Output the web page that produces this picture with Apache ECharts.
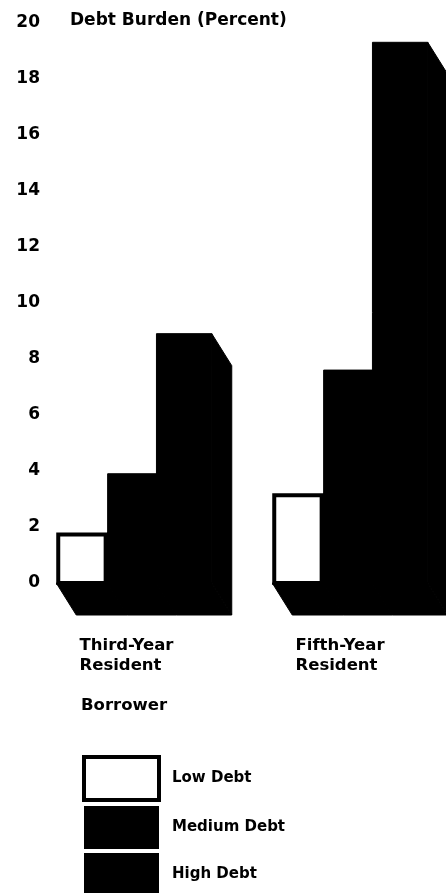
<!DOCTYPE html>
<html>
<head>
<meta charset="utf-8">
<script src="https://cdn.jsdelivr.net/npm/echarts@6/dist/echarts.min.js"></script>
<style>
  html, body { margin: 0; padding: 0; background: #ffffff; }
  #chart { width: 446px; height: 893px; }
</style>
</head>
<body>
<div id="chart"></div>
<script>
// Debt burden (percent of income) by residency year and debt level
const categories = ['Third-Year\nResident', 'Fifth-Year\nResident'];
const levelNames = ['Low Debt', 'Medium Debt', 'High Debt'];
const lowDebt = [1.8, 3.2];
const mediumDebt = [3.9, 7.6];
const highDebt = [8.9, 19.3];
const yMin = 0;
const yMax = 20;
const yStep = 2;
const axisTitle = 'Debt Burden (Percent)';
const groupNote = 'Borrower';

const FONT = "'DejaVu Sans', 'Liberation Sans', Arial, sans-serif";
const INK = '#000000';
const PAPER = '#ffffff';

// Extrusion of each box: the back face sits down and to the right.
const DEPTH_X = 20;
const DEPTH_Y = 32;
// Front-face widths of the three boxes in a group, as shares of the category band
const SLOT_SHARES = [0.238, 0.226, 0.256];

function boxRenderer(slot, hollow) {
  return function (params, api) {
    const top = api.coord([api.value(0), api.value(1)]);
    const base = api.coord([api.value(0), 0]);
    const band = api.size([1, 0])[0];
    const total = SLOT_SHARES.reduce((a, b) => a + b, 0) * band;
    let x0 = top[0] - total / 2;
    for (let k = 0; k < slot; k++) x0 += SLOT_SHARES[k] * band;
    const w = SLOT_SHARES[slot] * band;
    const x1 = x0 + w;
    const yT = top[1];
    const yB = base[1];
    const fill = { fill: INK, stroke: INK, lineWidth: 1 };
    const children = [
      { type: 'polygon', shape: { points: [[x1, yT], [x1 + DEPTH_X, yT + DEPTH_Y], [x1 + DEPTH_X, yB + DEPTH_Y], [x1, yB]] }, style: fill },
      { type: 'polygon', shape: { points: [[x0, yB], [x1, yB], [x1 + DEPTH_X, yB + DEPTH_Y], [x0 + DEPTH_X, yB + DEPTH_Y]] }, style: fill }
    ];
    if (hollow) {
      children.push({ type: 'rect', shape: { x: x0 + 2, y: yT + 2, width: w - 4, height: yB - yT - 2 },
        style: { fill: PAPER, stroke: INK, lineWidth: 4 } });
    } else {
      children.push({ type: 'rect', shape: { x: x0, y: yT, width: w, height: yB - yT }, style: fill });
    }
    return { type: 'group', children: children };
  };
}

function toPairs(values) {
  return values.map((v, i) => [i, v]);
}

const levels = [lowDebt, mediumDebt, highDebt];

const chart = echarts.init(document.getElementById('chart'), null, { renderer: 'canvas' });

chart.setOption({
  animation: false,
  backgroundColor: PAPER,
  title: {
    text: axisTitle,
    left: 70,
    top: 12,
    padding: 0,
    textStyle: { fontFamily: FONT, fontSize: 17, fontWeight: 'bold', color: INK }
  },
  legend: {
    orient: 'vertical',
    left: 82,
    top: 755,
    height: 140,
    padding: 0,
    itemWidth: 75,
    itemHeight: 43,
    itemGap: 4,
    selectedMode: false,
    icon: 'rect',
    data: [
      { name: levelNames[0], itemStyle: { color: PAPER, borderColor: INK, borderWidth: 4 } },
      { name: levelNames[1], itemStyle: { color: INK, borderColor: INK, borderWidth: 0 } },
      { name: levelNames[2], itemStyle: { color: INK, borderColor: INK, borderWidth: 0 } }
    ],
    textStyle: { fontFamily: FONT, fontSize: 15, fontWeight: 'bold', color: INK, padding: [0, 0, 0, 8] }
  },
  grid: { left: 26, right: -12, top: 22.7, bottom: 310, outerBoundsMode: 'none' },
  xAxis: {
    type: 'category',
    data: categories,
    boundaryGap: true,
    axisLine: { show: false },
    axisTick: { show: false },
    splitLine: { show: false },
    axisLabel: {
      interval: 0,
      margin: 53,
      align: 'center',
      formatter: function (value) {
        return value.split('\n').map(s => '{c|' + s + '}').join('\n');
      },
      rich: {
        c: { width: 109, align: 'left', fontFamily: FONT, fontSize: 16.5, fontWeight: 'bold', color: INK, lineHeight: 20 }
      }
    }
  },
  yAxis: {
    type: 'value',
    min: yMin,
    max: yMax,
    interval: yStep,
    axisLine: { show: false },
    axisTick: { show: false },
    splitLine: { show: false },
    axisLabel: {
      margin: -14,
      align: 'right',
      fontFamily: FONT,
      fontSize: 17,
      fontWeight: 'bold',
      color: INK
    }
  },
  graphic: [
    {
      type: 'text',
      left: 81,
      top: 697,
      style: { text: groupNote, fontFamily: FONT, fontSize: 16.5, fontWeight: 'bold', fill: INK }
    }
  ],
  series: levels.map((values, slot) => ({
    type: 'custom',
    name: levelNames[slot],
    renderItem: boxRenderer(slot, slot === 0),
    encode: { x: 0, y: 1 },
    itemStyle: { color: slot === 0 ? PAPER : INK, borderColor: INK },
    data: toPairs(values),
    clip: false
  }))
});
</script>
</body>
</html>
